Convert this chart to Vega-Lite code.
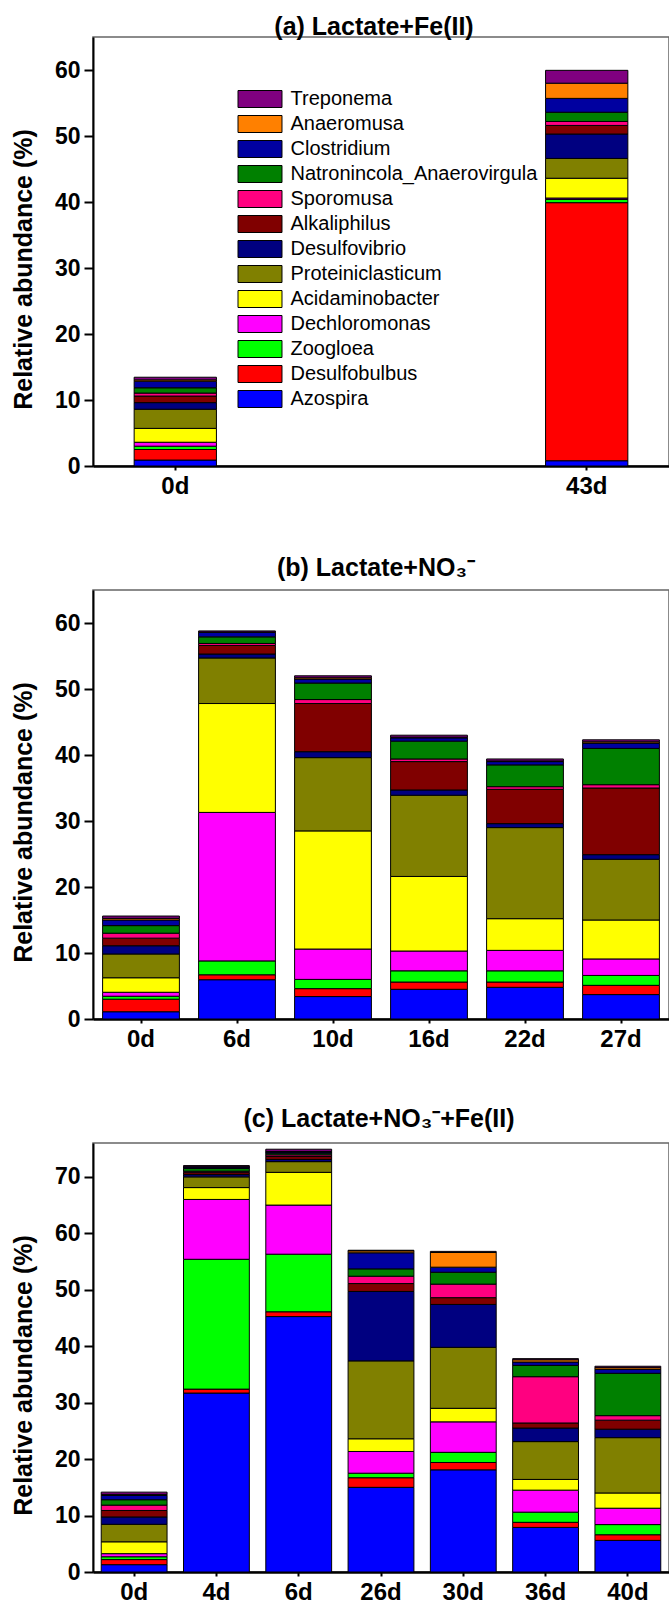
{
  "$schema": "https://vega.github.io/schema/vega-lite/v6.json",
  "padding": {"left": 10, "top": 14, "right": 0, "bottom": 5},
  "background": "white",
  "datasets": {
    "bars": [
      {"panel":"a","day":"0d","Azospira":0.9,"Desulfobulbus":1.6,"Zoogloea":0.5,"Dechloromonas":0.6,"Acidaminobacter":2.1,"Proteiniclasticum":2.9,"Desulfovibrio":1.0,"Alkaliphilus":1.0,"Sporomusa":0.45,"Natronincola_Anaerovirgula":0.8,"Clostridium":1.0,"Anaeromusa":0.2,"Treponema":0.4},
      {"panel":"a","day":"43d","Azospira":0.8,"Desulfobulbus":39.1,"Zoogloea":0.5,"Dechloromonas":0.2,"Acidaminobacter":3.0,"Proteiniclasticum":3.0,"Desulfovibrio":3.7,"Alkaliphilus":1.3,"Sporomusa":0.6,"Natronincola_Anaerovirgula":1.4,"Clostridium":2.1,"Anaeromusa":2.3,"Treponema":1.95},
      {"panel":"b","day":"0d","Azospira":1.1,"Desulfobulbus":1.9,"Zoogloea":0.45,"Dechloromonas":0.6,"Acidaminobacter":2.2,"Proteiniclasticum":3.6,"Desulfovibrio":1.25,"Alkaliphilus":1.15,"Sporomusa":0.75,"Natronincola_Anaerovirgula":1.15,"Clostridium":0.85,"Anaeromusa":0.25,"Treponema":0.35},
      {"panel":"b","day":"6d","Azospira":5.95,"Desulfobulbus":0.75,"Zoogloea":2.1,"Dechloromonas":22.5,"Acidaminobacter":16.5,"Proteiniclasticum":6.9,"Desulfovibrio":0.6,"Alkaliphilus":1.3,"Sporomusa":0.3,"Natronincola_Anaerovirgula":1.0,"Clostridium":0.7,"Anaeromusa":0.05,"Treponema":0.15},
      {"panel":"b","day":"10d","Azospira":3.4,"Desulfobulbus":1.2,"Zoogloea":1.4,"Dechloromonas":4.6,"Acidaminobacter":17.9,"Proteiniclasticum":11.1,"Desulfovibrio":0.9,"Alkaliphilus":7.3,"Sporomusa":0.6,"Natronincola_Anaerovirgula":2.5,"Clostridium":0.6,"Anaeromusa":0.2,"Treponema":0.3},
      {"panel":"b","day":"16d","Azospira":4.5,"Desulfobulbus":1.1,"Zoogloea":1.7,"Dechloromonas":3.0,"Acidaminobacter":11.3,"Proteiniclasticum":12.3,"Desulfovibrio":0.8,"Alkaliphilus":4.3,"Sporomusa":0.4,"Natronincola_Anaerovirgula":2.7,"Clostridium":0.5,"Anaeromusa":0.1,"Treponema":0.3},
      {"panel":"b","day":"22d","Azospira":4.8,"Desulfobulbus":0.8,"Zoogloea":1.7,"Dechloromonas":3.1,"Acidaminobacter":4.8,"Proteiniclasticum":13.8,"Desulfovibrio":0.6,"Alkaliphilus":5.2,"Sporomusa":0.4,"Natronincola_Anaerovirgula":3.3,"Clostridium":0.5,"Anaeromusa":0.1,"Treponema":0.3},
      {"panel":"b","day":"27d","Azospira":3.7,"Desulfobulbus":1.4,"Zoogloea":1.5,"Dechloromonas":2.5,"Acidaminobacter":5.9,"Proteiniclasticum":9.2,"Desulfovibrio":0.7,"Alkaliphilus":10.1,"Sporomusa":0.5,"Natronincola_Anaerovirgula":5.5,"Clostridium":0.8,"Anaeromusa":0.2,"Treponema":0.3},
      {"panel":"c","day":"0d","Azospira":1.3,"Desulfobulbus":0.9,"Zoogloea":0.5,"Dechloromonas":0.55,"Acidaminobacter":2.1,"Proteiniclasticum":3.1,"Desulfovibrio":1.3,"Alkaliphilus":1.15,"Sporomusa":0.95,"Natronincola_Anaerovirgula":0.95,"Clostridium":0.75,"Anaeromusa":0.2,"Treponema":0.4},
      {"panel":"c","day":"4d","Azospira":31.7,"Desulfobulbus":0.7,"Zoogloea":23.0,"Dechloromonas":10.6,"Acidaminobacter":2.1,"Proteiniclasticum":1.9,"Desulfovibrio":0.4,"Alkaliphilus":0.35,"Sporomusa":0.25,"Natronincola_Anaerovirgula":0.5,"Clostridium":0.25,"Anaeromusa":0.05,"Treponema":0.2},
      {"panel":"c","day":"6d","Azospira":45.25,"Desulfobulbus":0.85,"Zoogloea":10.2,"Dechloromonas":8.7,"Acidaminobacter":5.8,"Proteiniclasticum":1.9,"Desulfovibrio":0.4,"Alkaliphilus":0.5,"Sporomusa":0.3,"Natronincola_Anaerovirgula":0.3,"Clostridium":0.2,"Anaeromusa":0.1,"Treponema":0.4},
      {"panel":"c","day":"26d","Azospira":15.0,"Desulfobulbus":1.7,"Zoogloea":0.8,"Dechloromonas":3.85,"Acidaminobacter":2.25,"Proteiniclasticum":13.8,"Desulfovibrio":12.3,"Alkaliphilus":1.4,"Sporomusa":1.3,"Natronincola_Anaerovirgula":1.3,"Clostridium":2.85,"Anaeromusa":0.35,"Treponema":0.1},
      {"panel":"c","day":"30d","Azospira":18.1,"Desulfobulbus":1.3,"Zoogloea":1.8,"Dechloromonas":5.4,"Acidaminobacter":2.4,"Proteiniclasticum":10.8,"Desulfovibrio":7.6,"Alkaliphilus":1.2,"Sporomusa":2.4,"Natronincola_Anaerovirgula":2.1,"Clostridium":0.9,"Anaeromusa":2.6,"Treponema":0.2},
      {"panel":"c","day":"36d","Azospira":7.9,"Desulfobulbus":0.9,"Zoogloea":1.8,"Dechloromonas":3.9,"Acidaminobacter":1.9,"Proteiniclasticum":6.7,"Desulfovibrio":2.4,"Alkaliphilus":0.9,"Sporomusa":8.2,"Natronincola_Anaerovirgula":2.0,"Clostridium":0.6,"Anaeromusa":0.4,"Treponema":0.2},
      {"panel":"c","day":"40d","Azospira":5.6,"Desulfobulbus":1.0,"Zoogloea":1.8,"Dechloromonas":2.9,"Acidaminobacter":2.7,"Proteiniclasticum":9.8,"Desulfovibrio":1.5,"Alkaliphilus":1.6,"Sporomusa":0.8,"Natronincola_Anaerovirgula":7.5,"Clostridium":0.7,"Anaeromusa":0.3,"Treponema":0.25}
    ]
  },
  "config": {
    "view": {"stroke": "#666666", "strokeWidth": 1.5},
    "font": "Liberation Sans",
    "axis": {"domainColor": "black", "domainWidth": 2, "tickColor": "black", "tickWidth": 2, "labelColor": "black", "labelFont": "Liberation Sans", "labelFontWeight": "bold", "titleFont": "Liberation Sans", "titleFontWeight": "bold", "titleColor": "black", "grid": false},
    "axisX": {"labelAngle": 0, "labelFontSize": 24, "tickSize": 4, "labelPadding": 4, "domainWidth": 2.5, "title": null},
    "axisY": {"labelFontSize": 23, "tickSize": 9, "labelPadding": 4, "titleFontSize": 25, "titlePadding": 18},
    "title": {"font": "Liberation Sans", "fontWeight": "bold", "fontSize": 25, "color": "black", "anchor": "middle"}
  },
  "spacing": 124,
  "bounds": "flush",
  "resolve": {"scale": {"color": "independent"}},
  "vconcat": [
    {
      "width": 576, "height": 429,
      "title": {"text": "(a) Lactate+Fe(II)", "offset": 0, "dx": -7, "dy": 3},
      "data": {"name": "bars"},
      "transform": [
        {"filter": "datum.panel === 'a'"},
        {"fold": ["Azospira","Desulfobulbus","Zoogloea","Dechloromonas","Acidaminobacter","Proteiniclasticum","Desulfovibrio","Alkaliphilus","Sporomusa","Natronincola_Anaerovirgula","Clostridium","Anaeromusa","Treponema"], "as": ["genus", "value"]},
        {"calculate": "indexof(['Azospira','Desulfobulbus','Zoogloea','Dechloromonas','Acidaminobacter','Proteiniclasticum','Desulfovibrio','Alkaliphilus','Sporomusa','Natronincola_Anaerovirgula','Clostridium','Anaeromusa','Treponema'], datum.genus)", "as": "k"}
      ],
      "mark": {"type": "bar", "stroke": "black", "strokeWidth": 1},
      "encoding": {
        "x": {"field": "day", "type": "nominal", "sort": ["0d","43d"], "scale": {"paddingInner": 0.8, "paddingOuter": 0.1}, "axis": {"title": null}},
        "y": {"field": "value", "type": "quantitative", "stack": "zero", "scale": {"domain": [0, 65], "nice": false}, "axis": {"values": [0,10,20,30,40,50,60], "title": "Relative abundance (%)", "titleY": 232}},
        "color": {"field": "genus", "type": "nominal",
          "scale": {"domain": ["Treponema","Anaeromusa","Clostridium","Natronincola_Anaerovirgula","Sporomusa","Alkaliphilus","Desulfovibrio","Proteiniclasticum","Acidaminobacter","Dechloromonas","Zoogloea","Desulfobulbus","Azospira"],
                    "range": ["#800080","#FF8000","#0000A0","#008000","#FF0080","#800000","#000080","#808000","#FFFF00","#FF00FF","#00FF00","#FF0000","#0000FF"]},
          "legend": {"orient": "none", "legendX": 157, "legendY": 52, "title": null, "padding": 0, "symbolType": "M-2.588,-1H2.588V1H-2.588Z", "symbolSize": 289, "symbolStrokeColor": "black", "symbolStrokeWidth": 1, "symbolOpacity": 1, "labelFontSize": 20, "labelFont": "Liberation Sans", "labelFontWeight": "normal", "labelColor": "black", "labelLimit": 400, "labelOffset": 20.5, "rowPadding": 3}},
        "order": {"field": "k", "type": "quantitative", "sort": "ascending"}
      }
    },
    {
      "width": 576, "height": 429,
      "title": {"text": "(b) Lactate+NO₃⁻", "offset": 9, "dx": -5},
      "data": {"name": "bars"},
      "transform": [
        {"filter": "datum.panel === 'b'"},
        {"fold": ["Azospira","Desulfobulbus","Zoogloea","Dechloromonas","Acidaminobacter","Proteiniclasticum","Desulfovibrio","Alkaliphilus","Sporomusa","Natronincola_Anaerovirgula","Clostridium","Anaeromusa","Treponema"], "as": ["genus", "value"]},
        {"calculate": "indexof(['Azospira','Desulfobulbus','Zoogloea','Dechloromonas','Acidaminobacter','Proteiniclasticum','Desulfovibrio','Alkaliphilus','Sporomusa','Natronincola_Anaerovirgula','Clostridium','Anaeromusa','Treponema'], datum.genus)", "as": "k"}
      ],
      "mark": {"type": "bar", "stroke": "black", "strokeWidth": 1},
      "encoding": {
        "x": {"field": "day", "type": "nominal", "sort": ["0d","6d","10d","16d","22d","27d"], "scale": {"paddingInner": 0.2, "paddingOuter": 0.1}, "axis": {"title": null}},
        "y": {"field": "value", "type": "quantitative", "stack": "zero", "scale": {"domain": [0, 65], "nice": false}, "axis": {"values": [0,10,20,30,40,50,60], "title": "Relative abundance (%)", "titleY": 232}},
        "color": {"field": "genus", "type": "nominal",
          "scale": {"domain": ["Treponema","Anaeromusa","Clostridium","Natronincola_Anaerovirgula","Sporomusa","Alkaliphilus","Desulfovibrio","Proteiniclasticum","Acidaminobacter","Dechloromonas","Zoogloea","Desulfobulbus","Azospira"],
                    "range": ["#800080","#FF8000","#0000A0","#008000","#FF0080","#800000","#000080","#808000","#FFFF00","#FF00FF","#00FF00","#FF0000","#0000FF"]},
          "legend": null},
        "order": {"field": "k", "type": "quantitative", "sort": "ascending"}
      }
    },
    {
      "width": 576, "height": 429,
      "title": {"text": "(c) Lactate+NO₃⁻+Fe(II)", "offset": 11, "dx": -2},
      "data": {"name": "bars"},
      "transform": [
        {"filter": "datum.panel === 'c'"},
        {"fold": ["Azospira","Desulfobulbus","Zoogloea","Dechloromonas","Acidaminobacter","Proteiniclasticum","Desulfovibrio","Alkaliphilus","Sporomusa","Natronincola_Anaerovirgula","Clostridium","Anaeromusa","Treponema"], "as": ["genus", "value"]},
        {"calculate": "indexof(['Azospira','Desulfobulbus','Zoogloea','Dechloromonas','Acidaminobacter','Proteiniclasticum','Desulfovibrio','Alkaliphilus','Sporomusa','Natronincola_Anaerovirgula','Clostridium','Anaeromusa','Treponema'], datum.genus)", "as": "k"}
      ],
      "mark": {"type": "bar", "stroke": "black", "strokeWidth": 1},
      "encoding": {
        "x": {"field": "day", "type": "nominal", "sort": ["0d","4d","6d","26d","30d","36d","40d"], "scale": {"paddingInner": 0.2, "paddingOuter": 0.1}, "axis": {"title": null}},
        "y": {"field": "value", "type": "quantitative", "stack": "zero", "scale": {"domain": [0, 76], "nice": false}, "axis": {"values": [0,10,20,30,40,50,60,70], "title": "Relative abundance (%)", "titleY": 232}},
        "color": {"field": "genus", "type": "nominal",
          "scale": {"domain": ["Treponema","Anaeromusa","Clostridium","Natronincola_Anaerovirgula","Sporomusa","Alkaliphilus","Desulfovibrio","Proteiniclasticum","Acidaminobacter","Dechloromonas","Zoogloea","Desulfobulbus","Azospira"],
                    "range": ["#800080","#FF8000","#0000A0","#008000","#FF0080","#800000","#000080","#808000","#FFFF00","#FF00FF","#00FF00","#FF0000","#0000FF"]},
          "legend": null},
        "order": {"field": "k", "type": "quantitative", "sort": "ascending"}
      }
    }
  ]
}
